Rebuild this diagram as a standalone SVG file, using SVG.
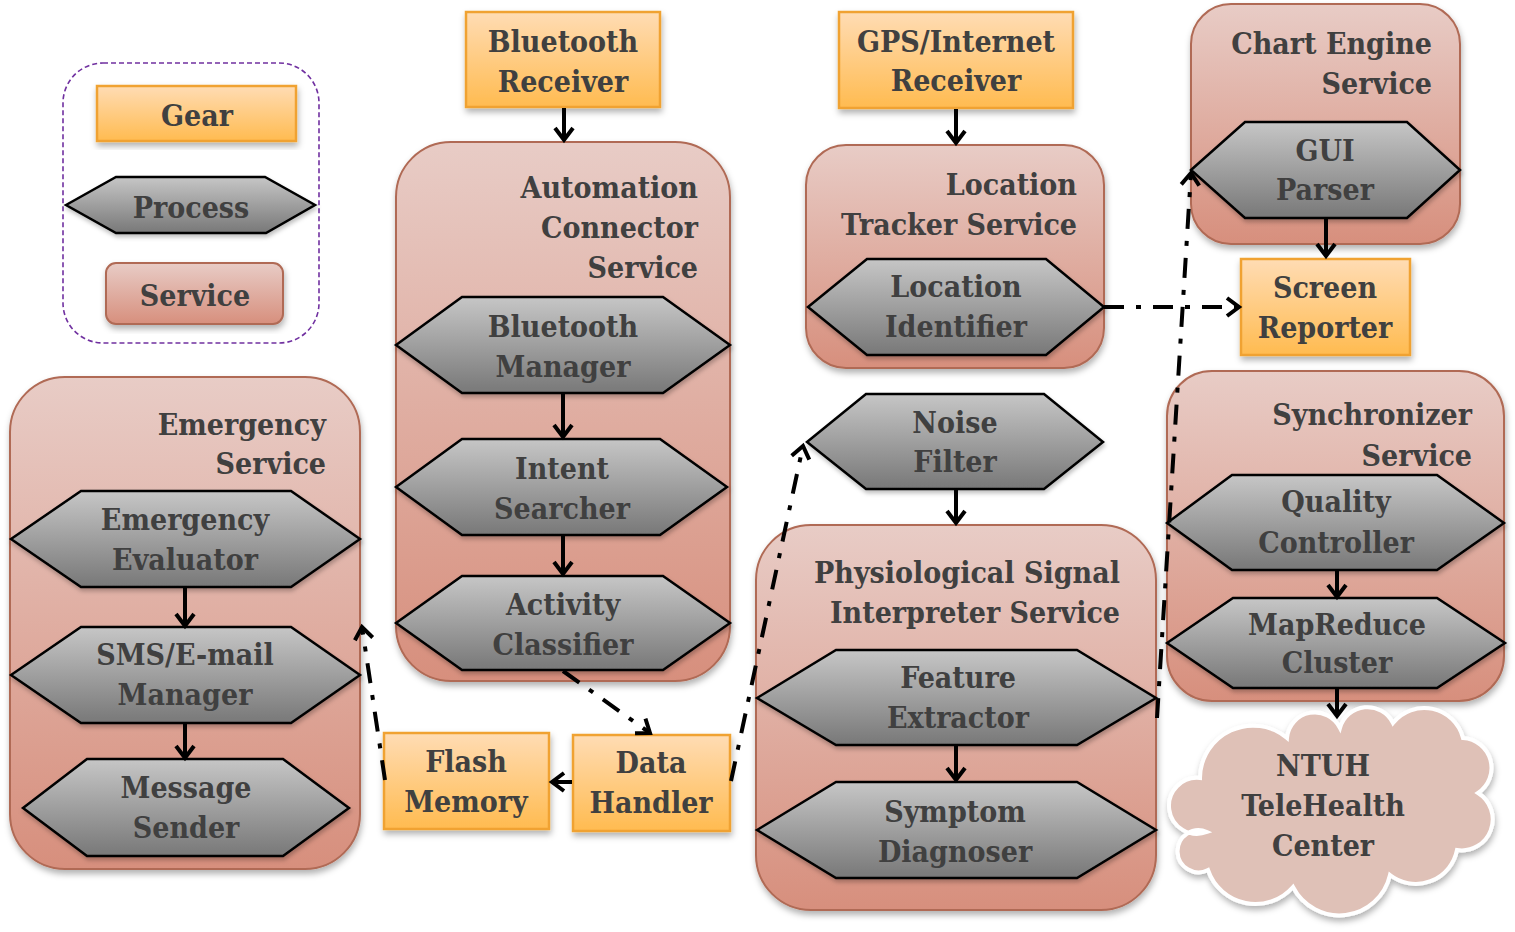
<svg xmlns="http://www.w3.org/2000/svg" width="1515" height="932" viewBox="0 0 1515 932">
<defs>
  <linearGradient id="gGear" x1="0" y1="0" x2="0" y2="1">
    <stop offset="0" stop-color="#ffdcb4"/>
    <stop offset="1" stop-color="#ffbb50"/>
  </linearGradient>
  <linearGradient id="gProc" x1="0" y1="0" x2="0" y2="1">
    <stop offset="0" stop-color="#c6c6c6"/>
    <stop offset="1" stop-color="#787878"/>
  </linearGradient>
  <linearGradient id="gServ" x1="0" y1="0" x2="0" y2="1">
    <stop offset="0" stop-color="#e8ccc6"/>
    <stop offset="1" stop-color="#d78f7d"/>
  </linearGradient>
  <filter id="sh" x="-10%" y="-10%" width="120%" height="125%">
    <feDropShadow dx="1" dy="4" stdDeviation="3" flood-color="#000" flood-opacity="0.3"/>
  </filter>
  <filter id="shs" x="-10%" y="-10%" width="120%" height="130%">
    <feDropShadow dx="1" dy="3" stdDeviation="2" flood-color="#000" flood-opacity="0.25"/>
  </filter>
  <marker id="ah" viewBox="-16 -12 20 24" markerWidth="20" markerHeight="24" refX="0" refY="0" orient="auto" markerUnits="userSpaceOnUse">
    <path d="M-12,-9 L0,0 L-12,9" fill="none" stroke="#000" stroke-width="4" stroke-linejoin="miter"/>
  </marker>
  <style>
    .gear{fill:url(#gGear);stroke:#f0a232;stroke-width:2.5;filter:url(#sh)}
    .proc{fill:url(#gProc);stroke:#000;stroke-width:2.5;filter:url(#shs)}
    .serv{fill:url(#gServ);stroke:#b06a55;stroke-width:2;filter:url(#sh)}
    text{font-family:'DejaVu Serif Condensed','DejaVu Serif','Liberation Serif',serif;font-weight:bold;font-size:30px;fill:#404040}
    .c{text-anchor:middle}
    .r{text-anchor:end}
    .solid{fill:none;stroke:#000;stroke-width:4;marker-end:url(#ah)}
    .dd{fill:none;stroke:#000;stroke-width:4;stroke-dasharray:20 12 5 12;marker-end:url(#ah)}
  </style>
</defs>
<rect width="1515" height="932" fill="#fff"/>

<g id="legend">
  <rect x="63" y="63" width="256" height="280" rx="40" fill="none" stroke="#7030a0" stroke-width="1.6" stroke-dasharray="5 3"/>
  <rect class="gear" x="97" y="86" width="199" height="55"/>
  <text class="c" x="197" y="126">Gear</text>
  <polygon class="proc" points="66,205 116,177 265,177 315,205 266,233 116,233"/>
  <text class="c" x="191" y="218">Process</text>
  <rect class="serv" x="106" y="263" width="177" height="61" rx="10"/>
  <text class="c" x="195" y="306">Service</text>
</g>

<g id="bluetooth-receiver">
  <rect class="gear" x="466" y="12" width="194" height="95"/>
  <text class="c" x="563" y="52">Bluetooth</text>
  <text class="c" x="563" y="92">Receiver</text>
</g>

<g id="automation-connector-service">
  <rect class="serv" x="396" y="142" width="334" height="539" rx="55"/>
  <text class="r" x="698" y="198">Automation</text>
  <text class="r" x="698" y="238">Connector</text>
  <text class="r" x="698" y="278">Service</text>
</g>
<g id="bluetooth-manager">
  <polygon class="proc" points="396,345 462,297 663,297 730,345 663,393 462,393"/>
  <text class="c" x="563" y="337">Bluetooth</text>
  <text class="c" x="563" y="377">Manager</text>
</g>
<g id="intent-searcher">
  <polygon class="proc" points="396,487 462,439 660,439 727,487 660,535 462,535"/>
  <text class="c" x="562" y="479">Intent</text>
  <text class="c" x="562" y="519">Searcher</text>
</g>
<g id="activity-classifier">
  <polygon class="proc" points="396,623 462,576 663,576 730,623 663,670 462,670"/>
  <text class="c" x="563" y="615">Activity</text>
  <text class="c" x="563" y="655">Classifier</text>
</g>

<g id="flash-memory">
  <rect class="gear" x="384" y="733" width="165" height="96"/>
  <text class="c" x="466" y="772">Flash</text>
  <text class="c" x="466" y="812">Memory</text>
</g>
<g id="data-handler">
  <rect class="gear" x="573" y="735" width="157" height="96"/>
  <text class="c" x="651" y="773">Data</text>
  <text class="c" x="651" y="813">Handler</text>
</g>

<g id="emergency-service">
  <rect class="serv" x="10" y="377" width="350" height="492" rx="55"/>
  <text class="r" x="326" y="435">Emergency</text>
  <text class="r" x="326" y="474">Service</text>
</g>
<g id="emergency-evaluator">
  <polygon class="proc" points="11,539 81,491 291,491 360,539 291,587 81,587"/>
  <text class="c" x="185" y="530">Emergency</text>
  <text class="c" x="185" y="570">Evaluator</text>
</g>
<g id="sms-email-manager">
  <polygon class="proc" points="11,675 81,627 291,627 360,675 291,723 81,723"/>
  <text class="c" x="185" y="665">SMS/E-mail</text>
  <text class="c" x="185" y="705">Manager</text>
</g>
<g id="message-sender">
  <polygon class="proc" points="23,808 87,759 283,759 349,808 283,856 87,856"/>
  <text class="c" x="186" y="798">Message</text>
  <text class="c" x="186" y="838">Sender</text>
</g>

<g id="gps-internet-receiver">
  <rect class="gear" x="839" y="12" width="234" height="96"/>
  <text class="c" x="956" y="52">GPS/Internet</text>
  <text class="c" x="956" y="91">Receiver</text>
</g>
<g id="location-tracker-service">
  <rect class="serv" x="806" y="145" width="298" height="223" rx="40"/>
  <text class="r" x="1077" y="195">Location</text>
  <text class="r" x="1077" y="235">Tracker Service</text>
</g>
<g id="location-identifier">
  <polygon class="proc" points="808,307 867,259 1046,259 1104,307 1046,355 867,355"/>
  <text class="c" x="956" y="297">Location</text>
  <text class="c" x="956" y="337">Identifier</text>
</g>

<g id="noise-filter">
  <polygon class="proc" points="807,442 866,394 1044,394 1103,442 1044,489 866,489"/>
  <text class="c" x="955" y="433">Noise</text>
  <text class="c" x="955" y="472">Filter</text>
</g>
<g id="physiological-signal-interpreter-service">
  <rect class="serv" x="756" y="525" width="400" height="385" rx="55"/>
  <text class="r" x="1120" y="583">Physiological Signal</text>
  <text class="r" x="1120" y="623">Interpreter Service</text>
</g>
<g id="feature-extractor">
  <polygon class="proc" points="757,698 836,650 1077,650 1156,698 1077,745 836,745"/>
  <text class="c" x="958" y="688">Feature</text>
  <text class="c" x="958" y="728">Extractor</text>
</g>
<g id="symptom-diagnoser">
  <polygon class="proc" points="757,830 836,782 1077,782 1156,830 1077,878 836,878"/>
  <text class="c" x="955" y="822">Symptom</text>
  <text class="c" x="955" y="862">Diagnoser</text>
</g>

<g id="chart-engine-service">
  <rect class="serv" x="1191" y="4" width="269" height="240" rx="40"/>
  <text class="r" x="1432" y="54">Chart Engine</text>
  <text class="r" x="1432" y="94">Service</text>
</g>
<g id="gui-parser">
  <polygon class="proc" points="1191,170 1245,122 1407,122 1460,170 1407,218 1245,218"/>
  <text class="c" x="1325" y="161">GUI</text>
  <text class="c" x="1325" y="200">Parser</text>
</g>
<g id="screen-reporter">
  <rect class="gear" x="1241" y="259" width="169" height="96"/>
  <text class="c" x="1325" y="298">Screen</text>
  <text class="c" x="1325" y="338">Reporter</text>
</g>

<g id="synchronizer-service">
  <rect class="serv" x="1167" y="371" width="337" height="330" rx="45"/>
  <text class="r" x="1472" y="425">Synchronizer</text>
  <text class="r" x="1472" y="466">Service</text>
</g>
<g id="quality-controller">
  <polygon class="proc" points="1167,523 1232,475 1437,475 1504,523 1437,570 1232,570"/>
  <text class="c" x="1336" y="512">Quality</text>
  <text class="c" x="1336" y="553">Controller</text>
</g>
<g id="mapreduce-cluster">
  <polygon class="proc" points="1167,643 1233,598 1437,598 1505,643 1437,688 1233,688"/>
  <text class="c" x="1337" y="635">MapReduce</text>
  <text class="c" x="1337" y="673">Cluster</text>
</g>

<g id="ntuh-telehealth-center">
  <path d="M1200,778 A53,53 0 0 1 1287,738 A28,28 0 0 1 1340,728 A28.5,28.5 0 0 1 1393,723 A40,40 0 0 1 1463,738 A30,30 0 0 1 1478,793 A31,31 0 0 1 1457,850 A42,42 0 0 1 1390,875 A52,52 0 0 1 1293,887 A50,50 0 0 1 1208,870 A21,21 0 1 1 1207,832 A28,28 0 1 1 1200,778 Z" fill="#dfc1b7" stroke="#fff" stroke-width="4" filter="url(#sh)"/>
  <text class="c" x="1323" y="776">NTUH</text>
  <text class="c" x="1323" y="816">TeleHealth</text>
  <text class="c" x="1323" y="856">Center</text>
</g>

<g id="connectors">
  <line class="solid" x1="564" y1="108" x2="564" y2="140"/>
  <line class="solid" x1="563" y1="394" x2="563" y2="437"/>
  <line class="solid" x1="563" y1="536" x2="563" y2="574"/>
  <line class="solid" x1="956" y1="109" x2="956" y2="143"/>
  <line class="solid" x1="1326" y1="219" x2="1326" y2="256"/>
  <line class="solid" x1="956" y1="490" x2="956" y2="523"/>
  <line class="solid" x1="956" y1="746" x2="956" y2="780"/>
  <line class="solid" x1="1337" y1="571" x2="1337" y2="597"/>
  <line class="solid" x1="1337" y1="689" x2="1337" y2="716"/>
  <line class="solid" x1="185" y1="588" x2="185" y2="626"/>
  <line class="solid" x1="185" y1="724" x2="185" y2="758"/>
  <line class="solid" x1="572" y1="782" x2="552" y2="782"/>
  <line class="dd" x1="563" y1="671" x2="650" y2="733"/>
  <line class="dd" x1="385" y1="780" x2="362" y2="627"/>
  <line class="dd" x1="731" y1="781" x2="803" y2="446"/>
  <line class="dd" x1="1104" y1="307" x2="1239" y2="307"/>
  <line class="dd" x1="1157" y1="718" x2="1191" y2="173"/>
</g>
</svg>
